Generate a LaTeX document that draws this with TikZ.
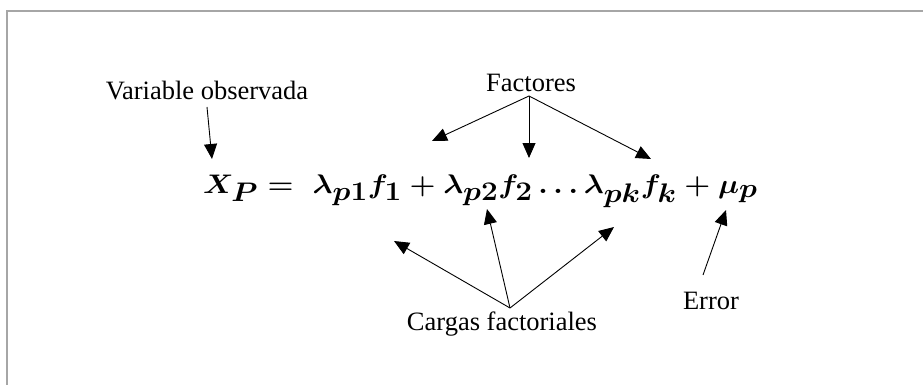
\documentclass[tikz,border=0pt]{standalone}
\usepackage{amsmath}
\usepackage{graphicx}
\usepackage{fontspec}
\setmainfont{Liberation Serif}
\usetikzlibrary{arrows.meta}
\newcommand{\myeq}{\scalebox{1.195}[1.08]{$\boldsymbol{X_P=\;\lambda_{p1}f_1+\lambda_{p2}f_2\ldots\lambda_{pk}f_k+\mu_p}$}}
\begin{document}
\begin{tikzpicture}[x=1pt,y=-1pt]
\tikzset{lbl/.style={inner sep=0pt,font=\fontsize{26.5}{30}\selectfont},
  eqstyle/.style={inner sep=0pt,font=\fontsize{36}{40}\selectfont},
  arr/.style={line width=0.9pt,-{Triangle[length=15pt,width=13pt]}},
  frameline/.style={line width=2pt,draw=black!35}}
\path[use as bounding box] (0,0) rectangle (923,385);
\draw[frameline] (7,385) -- (7,11.5) -- (923,11.5);
\path (203,193) node[eqstyle,anchor=base west] (eqn) {\myeq};
\path (207,100) node[lbl,anchor=base] (var) {Variable observada};
\path (531,92) node[lbl,anchor=base] (fac) {Factores};
\path (502,330) node[lbl,anchor=base] (car) {Cargas factoriales};
\path (711,309) node[lbl,anchor=base] (err) {Error};
\coordinate (v0) at (207,107);
\coordinate (v1) at (212,159);
\coordinate (f0) at (529,96);
\coordinate (f1) at (432,141);
\coordinate (f2) at (529,158);
\coordinate (f3) at (651,159);
\coordinate (c0) at (510,308);
\coordinate (c1) at (394,241);
\coordinate (c2) at (487,209);
\coordinate (c3) at (614,227);
\coordinate (e0) at (703,275);
\coordinate (e1) at (726,210);
\draw[arr] (v0) -- (v1);
\draw[arr] (f0) -- (f1);
\draw[arr] (f0) -- (f2);
\draw[arr] (f0) -- (f3);
\draw[arr] (c0) -- (c1);
\draw[arr] (c0) -- (c2);
\draw[arr] (c0) -- (c3);
\draw[arr] (e0) -- (e1);
\end{tikzpicture}
\end{document}
